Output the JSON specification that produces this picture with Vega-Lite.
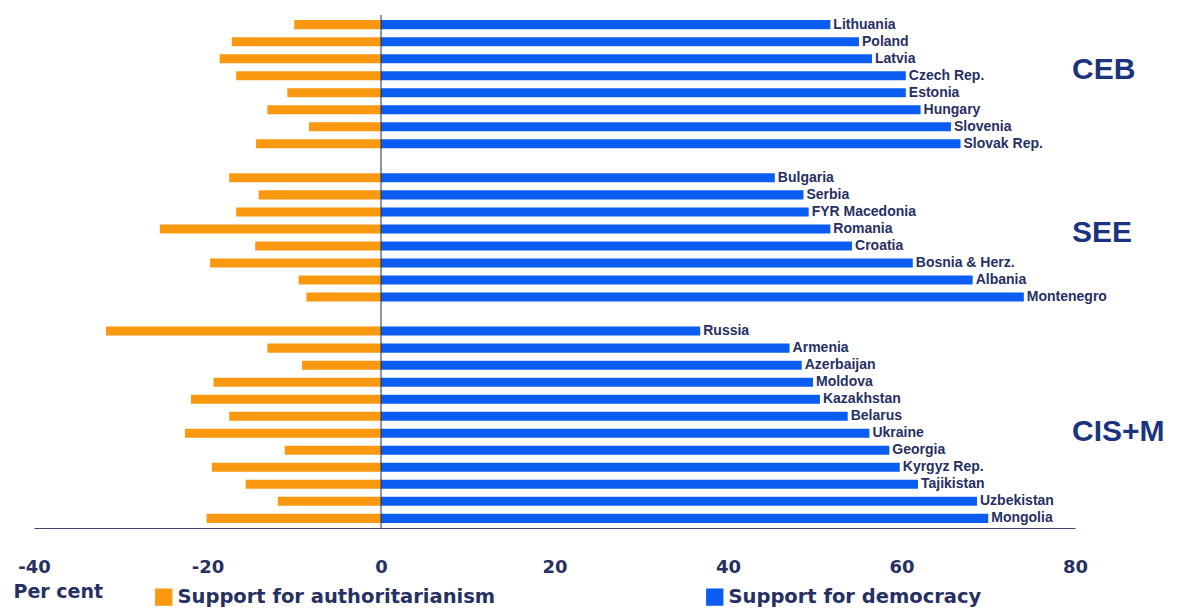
{
  "$schema": "https://vega.github.io/schema/vega-lite/v6.json",
  "width": 1041,
  "height": 513,
  "autosize": {"type": "none"},
  "padding": {"left": 34, "top": 15, "right": 104, "bottom": 84},
  "background": "white",
  "config": {"view": {"stroke": null}},
  "datasets": {
    "survey": [
      {"country": "Lithuania", "region": "CEB", "series": "Support for authoritarianism", "value": -10.0},
      {"country": "Poland", "region": "CEB", "series": "Support for authoritarianism", "value": -17.2},
      {"country": "Latvia", "region": "CEB", "series": "Support for authoritarianism", "value": -18.6},
      {"country": "Czech Rep.", "region": "CEB", "series": "Support for authoritarianism", "value": -16.7},
      {"country": "Estonia", "region": "CEB", "series": "Support for authoritarianism", "value": -10.8},
      {"country": "Hungary", "region": "CEB", "series": "Support for authoritarianism", "value": -13.1},
      {"country": "Slovenia", "region": "CEB", "series": "Support for authoritarianism", "value": -8.3},
      {"country": "Slovak Rep.", "region": "CEB", "series": "Support for authoritarianism", "value": -14.4},
      {"country": "Bulgaria", "region": "SEE", "series": "Support for authoritarianism", "value": -17.5},
      {"country": "Serbia", "region": "SEE", "series": "Support for authoritarianism", "value": -14.1},
      {"country": "FYR Macedonia", "region": "SEE", "series": "Support for authoritarianism", "value": -16.7},
      {"country": "Romania", "region": "SEE", "series": "Support for authoritarianism", "value": -25.5},
      {"country": "Croatia", "region": "SEE", "series": "Support for authoritarianism", "value": -14.5},
      {"country": "Bosnia & Herz.", "region": "SEE", "series": "Support for authoritarianism", "value": -19.7},
      {"country": "Albania", "region": "SEE", "series": "Support for authoritarianism", "value": -9.5},
      {"country": "Montenegro", "region": "SEE", "series": "Support for authoritarianism", "value": -8.6},
      {"country": "Russia", "region": "CIS+M", "series": "Support for authoritarianism", "value": -31.7},
      {"country": "Armenia", "region": "CIS+M", "series": "Support for authoritarianism", "value": -13.1},
      {"country": "Azerbaijan", "region": "CIS+M", "series": "Support for authoritarianism", "value": -9.1},
      {"country": "Moldova", "region": "CIS+M", "series": "Support for authoritarianism", "value": -19.3},
      {"country": "Kazakhstan", "region": "CIS+M", "series": "Support for authoritarianism", "value": -21.9},
      {"country": "Belarus", "region": "CIS+M", "series": "Support for authoritarianism", "value": -17.5},
      {"country": "Ukraine", "region": "CIS+M", "series": "Support for authoritarianism", "value": -22.6},
      {"country": "Georgia", "region": "CIS+M", "series": "Support for authoritarianism", "value": -11.1},
      {"country": "Kyrgyz Rep.", "region": "CIS+M", "series": "Support for authoritarianism", "value": -19.5},
      {"country": "Tajikistan", "region": "CIS+M", "series": "Support for authoritarianism", "value": -15.6},
      {"country": "Uzbekistan", "region": "CIS+M", "series": "Support for authoritarianism", "value": -11.9},
      {"country": "Mongolia", "region": "CIS+M", "series": "Support for authoritarianism", "value": -20.1},
      {"country": "Lithuania", "region": "CEB", "series": "Support for democracy", "value": 51.8},
      {"country": "Poland", "region": "CEB", "series": "Support for democracy", "value": 55.1},
      {"country": "Latvia", "region": "CEB", "series": "Support for democracy", "value": 56.6},
      {"country": "Czech Rep.", "region": "CEB", "series": "Support for democracy", "value": 60.5},
      {"country": "Estonia", "region": "CEB", "series": "Support for democracy", "value": 60.5},
      {"country": "Hungary", "region": "CEB", "series": "Support for democracy", "value": 62.2},
      {"country": "Slovenia", "region": "CEB", "series": "Support for democracy", "value": 65.7},
      {"country": "Slovak Rep.", "region": "CEB", "series": "Support for democracy", "value": 66.8},
      {"country": "Bulgaria", "region": "SEE", "series": "Support for democracy", "value": 45.4},
      {"country": "Serbia", "region": "SEE", "series": "Support for democracy", "value": 48.7},
      {"country": "FYR Macedonia", "region": "SEE", "series": "Support for democracy", "value": 49.3},
      {"country": "Romania", "region": "SEE", "series": "Support for democracy", "value": 51.8},
      {"country": "Croatia", "region": "SEE", "series": "Support for democracy", "value": 54.3},
      {"country": "Bosnia & Herz.", "region": "SEE", "series": "Support for democracy", "value": 61.3},
      {"country": "Albania", "region": "SEE", "series": "Support for democracy", "value": 68.2},
      {"country": "Montenegro", "region": "SEE", "series": "Support for democracy", "value": 74.1},
      {"country": "Russia", "region": "CIS+M", "series": "Support for democracy", "value": 36.8},
      {"country": "Armenia", "region": "CIS+M", "series": "Support for democracy", "value": 47.1},
      {"country": "Azerbaijan", "region": "CIS+M", "series": "Support for democracy", "value": 48.5},
      {"country": "Moldova", "region": "CIS+M", "series": "Support for democracy", "value": 49.8},
      {"country": "Kazakhstan", "region": "CIS+M", "series": "Support for democracy", "value": 50.6},
      {"country": "Belarus", "region": "CIS+M", "series": "Support for democracy", "value": 53.8},
      {"country": "Ukraine", "region": "CIS+M", "series": "Support for democracy", "value": 56.3},
      {"country": "Georgia", "region": "CIS+M", "series": "Support for democracy", "value": 58.6},
      {"country": "Kyrgyz Rep.", "region": "CIS+M", "series": "Support for democracy", "value": 59.8},
      {"country": "Tajikistan", "region": "CIS+M", "series": "Support for democracy", "value": 61.9},
      {"country": "Uzbekistan", "region": "CIS+M", "series": "Support for democracy", "value": 68.7},
      {"country": "Mongolia", "region": "CIS+M", "series": "Support for democracy", "value": 70.0}
    ],
    "regions": [
      {"region": "CEB", "anchor": "Czech Rep."},
      {"region": "SEE", "anchor": "Romania"},
      {"region": "CIS+M", "anchor": "Ukraine"}
    ]
  },
  "layer": [
    {
      "data": {"name": "survey"},
      "mark": {"type": "bar"},
      "encoding": {
        "y": {
          "field": "country", "type": "nominal", "sort": null, "axis": null,
          "scale": {
            "domain": ["Lithuania", "Poland", "Latvia", "Czech Rep.", "Estonia", "Hungary", "Slovenia", "Slovak Rep.", " ",
                       "Bulgaria", "Serbia", "FYR Macedonia", "Romania", "Croatia", "Bosnia & Herz.", "Albania", "Montenegro", "  ",
                       "Russia", "Armenia", "Azerbaijan", "Moldova", "Kazakhstan", "Belarus", "Ukraine", "Georgia", "Kyrgyz Rep.", "Tajikistan", "Uzbekistan", "Mongolia"],
            "paddingInner": 0.47, "paddingOuter": 0.3
          }
        },
        "x": {
          "field": "value", "type": "quantitative",
          "scale": {"domain": [-40, 80], "nice": false, "zero": true},
          "axis": {
            "title": "Per cent", "titleX": -21, "titleY": 69, "titleAlign": "left", "titleAnchor": "start",
            "titleBaseline": "alphabetic", "titleFont": "DejaVu Sans", "titleFontSize": 19, "titleFontWeight": "bold",
            "titleColor": "#263063", "titleAngle": 0,
            "labelExpr": "replace(datum.label, '\u2212', '-')",
            "labelFont": "DejaVu Sans", "labelFontSize": 18, "labelFontWeight": "bold", "labelColor": "#263063",
            "labelPadding": 30, "labelFlush": false, "ticks": false, "tickSize": 0, "grid": false,
            "domainColor": "#3d4a6b", "domainWidth": 1, "values": [-40, -20, 0, 20, 40, 60, 80]
          }
        },
        "color": {
          "field": "series", "type": "nominal",
          "scale": {"domain": ["Support for authoritarianism", "Support for democracy"], "range": ["#FA980F", "#0B5DF2"]},
          "legend": {
            "title": null, "orient": "none", "legendX": 120, "legendY": 572, "direction": "horizontal",
            "symbolType": "square", "symbolSize": 300, "symbolStrokeWidth": 0,
            "labelFont": "DejaVu Sans", "labelFontSize": 19.5, "labelFontWeight": "bold", "labelColor": "#263063",
            "labelLimit": 500, "columnPadding": 209, "labelOffset": 4, "padding": 0
          }
        }
      }
    },
    {
      "data": {"name": "survey"},
      "transform": [{"filter": "datum.series === 'Support for democracy'"}],
      "mark": {"type": "text", "align": "left", "baseline": "middle", "dx": 3, "font": "Liberation Sans", "fontWeight": "bold", "fontSize": 14, "color": "#263063"},
      "encoding": {
        "y": {"field": "country", "type": "nominal", "sort": null, "axis": null},
        "x": {"field": "value", "type": "quantitative"},
        "text": {"field": "country"}
      }
    },
    {
      "data": {"values": [{}]},
      "mark": {"type": "rule", "color": "#1f2d55", "strokeWidth": 1},
      "encoding": {"x": {"datum": 0}}
    },
    {
      "data": {"name": "regions"},
      "transform": [{"filter": "datum.region === 'CEB'"}],
      "mark": {"type": "text", "align": "left", "baseline": "middle", "dx": -3, "dy": -5.5, "font": "Liberation Sans", "fontWeight": "bold", "fontSize": 30, "color": "#1b3480"},
      "encoding": {
        "y": {"field": "anchor", "type": "nominal", "axis": null},
        "x": {"datum": 80},
        "text": {"field": "region"}
      }
    },
    {
      "data": {"name": "regions"},
      "transform": [{"filter": "datum.region === 'SEE'"}],
      "mark": {"type": "text", "align": "left", "baseline": "middle", "dx": -3, "dy": 4, "font": "Liberation Sans", "fontWeight": "bold", "fontSize": 30, "color": "#1b3480"},
      "encoding": {
        "y": {"field": "anchor", "type": "nominal", "axis": null},
        "x": {"datum": 80},
        "text": {"field": "region"}
      }
    },
    {
      "data": {"name": "regions"},
      "transform": [{"filter": "datum.region === 'CIS+M'"}],
      "mark": {"type": "text", "align": "left", "baseline": "middle", "dx": -3, "dy": -1.5, "font": "Liberation Sans", "fontWeight": "bold", "fontSize": 30, "color": "#1b3480"},
      "encoding": {
        "y": {"field": "anchor", "type": "nominal", "axis": null},
        "x": {"datum": 80},
        "text": {"field": "region"}
      }
    }
  ]
}
